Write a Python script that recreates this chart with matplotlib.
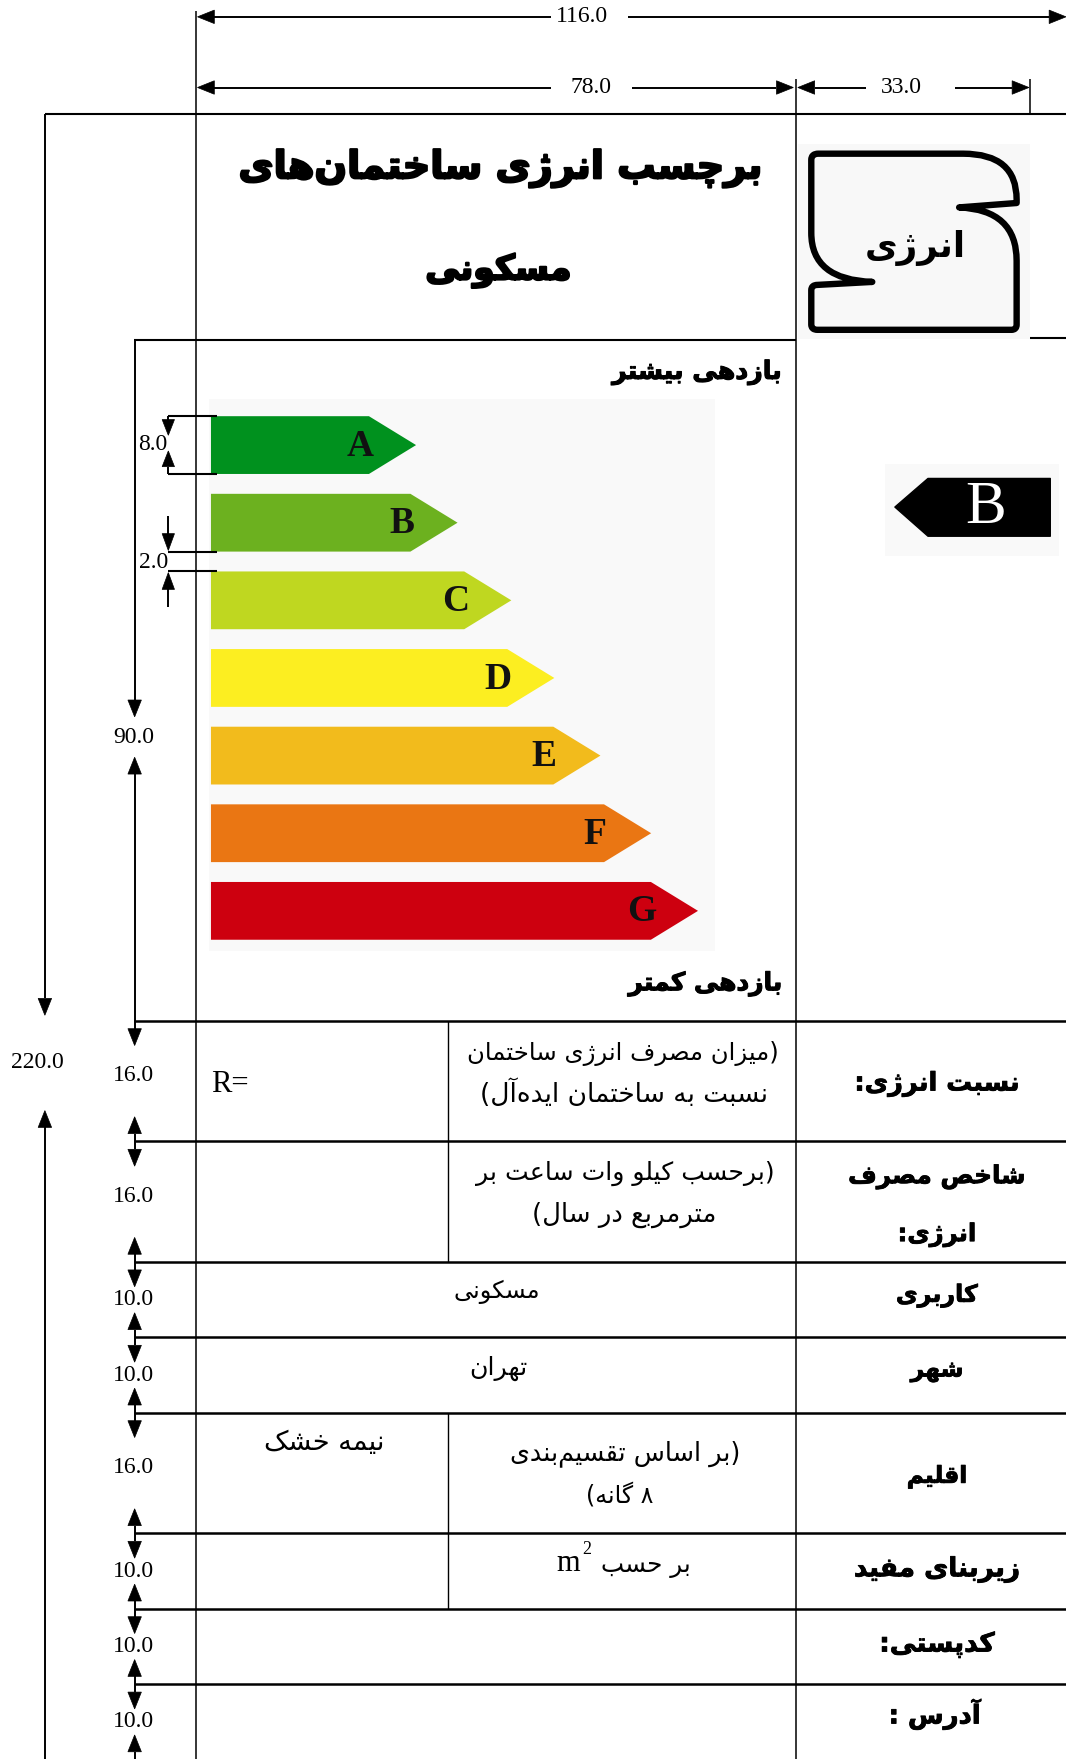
import numpy as np
import matplotlib
matplotlib.use('Agg')
import matplotlib.pyplot as plt
from matplotlib.patches import Polygon, Rectangle, PathPatch
from matplotlib.path import Path
import matplotlib.patheffects as pe
from matplotlib import font_manager as fm
from matplotlib.ft2font import FT2Font

# ---------------- data ----------------
width_dims = [116.0, 78.0, 33.0]          # mm
height_total = 220.0
chart_dim = 90.0
bar_dim = 8.0
gap_dim = 2.0
row_dims = [16.0, 16.0, 10.0, 10.0, 16.0, 10.0, 10.0, 10.0]
classes = ['A', 'B', 'C', 'D', 'E', 'F', 'G']
class_colors = ['#00911e', '#6cb11f', '#bfd720', '#fcee21', '#f2bb1c', '#ea7613', '#cd000f']
class_lengths = [26.7, 32.1, 39.1, 44.7, 50.7, 57.3, 63.4]   # mm, to arrow tip
rating = 'B'
title_lines = ['برچسب انرژی ساختمان\u200cهای', 'مسکونی']
logo_word = 'انرژی'
more_eff = 'بازدهی بیشتر'
less_eff = 'بازدهی کمتر'
row_labels = [['نسبت انرژی:'], ['شاخص مصرف', 'انرژی:'], ['کاربری'], ['شهر'],
              ['اقلیم'], ['زیربنای مفید'], ['کدپستی:'], ['آدرس :']]
ratio_note = ['(میزان مصرف انرژی ساختمان', 'نسبت به ساختمان ایده\u200cآل)']
index_note = ['(برحسب کیلو وات ساعت بر', 'مترمربع در سال)']
usage_value = 'مسکونی'
city_value = 'تهران'
climate_value = 'نیمه خشک'
climate_note = ['(بر اساس تقسیم\u200cبندی', '۸ گانه)']
area_note = 'بر حسب'
ratio_prefix = 'R='

# ---------------- Persian shaping ----------------
FORMS = {
    '\u0622': ('\uFE81', '\uFE82', None, None),
    '\u0627': ('\uFE8D', '\uFE8E', None, None),
    '\u0628': ('\uFE8F', '\uFE90', '\uFE91', '\uFE92'),
    '\u067E': ('\uFB56', '\uFB57', '\uFB58', '\uFB59'),
    '\u062A': ('\uFE95', '\uFE96', '\uFE97', '\uFE98'),
    '\u062B': ('\uFE99', '\uFE9A', '\uFE9B', '\uFE9C'),
    '\u062C': ('\uFE9D', '\uFE9E', '\uFE9F', '\uFEA0'),
    '\u0686': ('\uFB7A', '\uFB7B', '\uFB7C', '\uFB7D'),
    '\u062D': ('\uFEA1', '\uFEA2', '\uFEA3', '\uFEA4'),
    '\u062E': ('\uFEA5', '\uFEA6', '\uFEA7', '\uFEA8'),
    '\u062F': ('\uFEA9', '\uFEAA', None, None),
    '\u0630': ('\uFEAB', '\uFEAC', None, None),
    '\u0631': ('\uFEAD', '\uFEAE', None, None),
    '\u0632': ('\uFEAF', '\uFEB0', None, None),
    '\u0698': ('\uFB8A', '\uFB8B', None, None),
    '\u0633': ('\uFEB1', '\uFEB2', '\uFEB3', '\uFEB4'),
    '\u0634': ('\uFEB5', '\uFEB6', '\uFEB7', '\uFEB8'),
    '\u0635': ('\uFEB9', '\uFEBA', '\uFEBB', '\uFEBC'),
    '\u0636': ('\uFEBD', '\uFEBE', '\uFEBF', '\uFEC0'),
    '\u0637': ('\uFEC1', '\uFEC2', '\uFEC3', '\uFEC4'),
    '\u0638': ('\uFEC5', '\uFEC6', '\uFEC7', '\uFEC8'),
    '\u0639': ('\uFEC9', '\uFECA', '\uFECB', '\uFECC'),
    '\u063A': ('\uFECD', '\uFECE', '\uFECF', '\uFED0'),
    '\u0641': ('\uFED1', '\uFED2', '\uFED3', '\uFED4'),
    '\u0642': ('\uFED5', '\uFED6', '\uFED7', '\uFED8'),
    '\u06A9': ('\uFB8E', '\uFB8F', '\uFB90', '\uFB91'),
    '\u06AF': ('\uFB92', '\uFB93', '\uFB94', '\uFB95'),
    '\u0644': ('\uFEDD', '\uFEDE', '\uFEDF', '\uFEE0'),
    '\u0645': ('\uFEE1', '\uFEE2', '\uFEE3', '\uFEE4'),
    '\u0646': ('\uFEE5', '\uFEE6', '\uFEE7', '\uFEE8'),
    '\u0647': ('\uFEE9', '\uFEEA', '\uFEEB', '\uFEEC'),
    '\u0648': ('\uFEED', '\uFEEE', None, None),
    '\u06CC': ('\uFBFC', '\uFBFD', '\uFBFE', '\uFBFF'),
}
LAMALEF = {'\u0627': ('\uFEFB', '\uFEFC'), '\u0622': ('\uFEF5', '\uFEF6')}
MIRROR = {'(': ')', ')': '('}
NEUTRAL = set(' \u200c:.()')


def shape(s):
    out = []
    i, n = 0, len(s)
    while i < n:
        c = s[i]
        if c in FORMS:
            prev = s[i - 1] if i > 0 else ''
            nxt = s[i + 1] if i + 1 < n else ''
            jp = prev in FORMS and FORMS[prev][2] is not None
            if c == '\u0644' and nxt in LAMALEF:
                out.append((LAMALEF[nxt][1] if jp else LAMALEF[nxt][0], True))
                i += 2
                continue
            f = FORMS[c]
            jn = f[2] is not None and nxt in FORMS
            if jp and jn:
                g = f[3]
            elif jp:
                g = f[1]
            elif jn:
                g = f[2]
            else:
                g = f[0]
            out.append((g, True))
        else:
            out.append((c, False))
        i += 1
    return out


def visual(s, rtl=True):
    chars = shape(s)
    types = ['R' if ar else ('N' if g in NEUTRAL else 'L') for g, ar in chars]
    base = 'R' if rtl else 'L'
    res = types[:]
    n = len(types)
    i = 0
    while i < n:
        if types[i] == 'N':
            j = i
            while j < n and types[j] == 'N':
                j += 1
            left = types[i - 1] if i > 0 else base
            right = types[j] if j < n else base
            t = left if left == right else base
            for k in range(i, j):
                res[k] = t
            i = j
        else:
            i += 1
    runs = []
    for (g, _), t in zip(chars, res):
        if t == 'R' and g in MIRROR:
            g = MIRROR[g]
        if runs and runs[-1][0] == t:
            runs[-1][1].append(g)
        else:
            runs.append([t, [g]])
    if rtl:
        runs = runs[::-1]
    out = ''
    for t, gs in runs:
        out += ''.join(gs[::-1] if t == 'R' else gs)
    return out.replace('\u200c', '')


# ---------------- fonts ----------------
def has_glyphs(path, codes):
    try:
        f = FT2Font(path)
        return all(f.get_char_index(c) != 0 for c in codes)
    except Exception:
        return False

bold_path = fm.findfont(fm.FontProperties(family='DejaVu Sans', weight='bold'))
BOLD_AR = has_glyphs(bold_path, [0xFBFC, 0xFE8F, 0xFB8A, 0xFB8E])

# ---------------- figure ----------------
fig = plt.figure(figsize=(10.66, 17.59), dpi=100)
ax = fig.add_axes([0, 0, 1, 1])
ax.set_xlim(0, 950)
ax.set_ylim(1568, 0)
ax.axis('off')
S = 1066 / 950.0
renderer = fig.canvas.get_renderer()


def fit_text(x, y, s, w, ha='center', bold=False, fs0=20, color='k', rtl=True, stroke=0):
    vs = visual(s, rtl)
    kw = {}
    if bold and BOLD_AR:
        kw['fontweight'] = 'bold'
    t = ax.text(x, y, vs, ha=ha, va='center', fontsize=fs0, family='DejaVu Sans',
                color=color, **kw)
    bb = t.get_window_extent(renderer)
    t.set_fontsize(fs0 * w * S / bb.width)
    sw = stroke if (BOLD_AR or not bold) else max(stroke, 1.1)
    if sw > 0:
        t.set_path_effects([pe.withStroke(linewidth=sw, foreground=color)])
    return t


def hline(y, x0, x1, lw=1.5):
    ax.plot([x0, x1], [y, y], color='k', lw=lw, solid_capstyle='butt')


def vline(x, y0, y1, lw=1.0):
    ax.plot([x, x], [y0, y1], color='k', lw=lw, solid_capstyle='butt')


def arrow(x0, y0, x1, y1, hl=15, hw=5.5, lw=1.4):
    dx, dy = x1 - x0, y1 - y0
    L = np.hypot(dx, dy)
    ux, uy = dx / L, dy / L
    bx, by = x1 - ux * hl, y1 - uy * hl
    if L > hl:
        ax.plot([x0, bx], [y0, by], color='k', lw=lw, solid_capstyle='butt')
    ax.add_patch(Polygon([(x1, y1), (bx - uy * hw, by + ux * hw), (bx + uy * hw, by - ux * hw)],
                         closed=True, fc='k', ec='k', lw=0.5))


def dim_text(x, y, v, fs=17):
    ax.text(x, y, f'{v:.1f}', ha='center', va='center', fontsize=fs,
            family='Liberation Serif', color='k')


# ---------------- geometry ----------------
X_L, X_MID, X_LAB, X_R = 175, 399, 709, 950
Y_TOP = 102
Y_TABLE = 910
MM_Y = 6.72
bounds = Y_TABLE + np.concatenate([[0], np.cumsum(row_dims)]) * MM_Y
Y_CHART = Y_TABLE - chart_dim * 6.745

# frame lines
hline(Y_TOP, 40, X_R, 1.5)
hline(Y_CHART, 119, X_LAB, 1.5)
hline(Y_CHART - 2, 918, X_R, 1.5)
hline(bounds[0], 119, X_R, 1.8)
for b in bounds[1:-1]:
    hline(b, 120, X_R, 1.8)
vline(X_L, 10, 1568, 1.1)
vline(X_LAB, 70, 1568, 1.1)
vline(918, 70, Y_TOP, 1.1)
vline(X_MID, bounds[0], bounds[2], 1.0)
vline(X_MID, bounds[4], bounds[6], 1.0)

# ---------------- top width dimensions ----------------
y116, y78 = 15, 78
arrow(491, y116, X_L + 1, y116, hw=6)
arrow(560, y116, X_R, y116, hw=6)
dim_text(519, y116, width_dims[0])
arrow(491, y78, X_L + 1, y78, hw=6)
arrow(563, y78, X_LAB - 2, y78, hw=6)
dim_text(527, y78, width_dims[1])
arrow(772, y78, X_LAB + 2, y78, hw=6)
arrow(851, y78, 917, y78, hw=6)
dim_text(803, y78, width_dims[2])

# total height
arrow(40, Y_TOP, 40, 905, hw=6)
arrow(40, 1568, 40, 990, hw=6)
dim_text(33, 947, height_total)

# chart height
arrow(120, Y_CHART, 120, 639, hw=6)
arrow(120, Y_TABLE, 120, 675, hw=6)
dim_text(119, 657, chart_dim)

# ---------------- title ----------------
fit_text(446, 150, title_lines[0], 466, bold=True, stroke=1.6)
fit_text(444, 241, title_lines[1], 130, bold=True, stroke=1.6)

# ---------------- logo ----------------
ax.add_patch(Rectangle((711, 128), 207, 174, fc='#f8f8f8', ec='none'))
LX0, LY0, LW, LH = 723, 137, 183, 157
pts = [((0.034, 0.0), Path.MOVETO), ((0.74, 0.0), Path.LINETO),
       ((1.0, 0.0), Path.CURVE3), ((1.0, 0.26), Path.CURVE3),
       ((1.0, 0.28), Path.LINETO), ((0.72, 0.305), Path.LINETO),
       ((1.0, 0.318), Path.CURVE3), ((1.0, 0.608), Path.CURVE3),
       ((1.0, 0.97), Path.LINETO), ((1.0, 1.0), Path.CURVE3), ((0.975, 1.0), Path.CURVE3),
       ((0.03, 1.0), Path.LINETO), ((0.0, 1.0), Path.CURVE3), ((0.0, 0.97), Path.CURVE3),
       ((0.0, 0.775), Path.LINETO), ((0.0, 0.745), Path.CURVE3), ((0.03, 0.745), Path.CURVE3),
       ((0.297, 0.728), Path.LINETO),
       ((0.0, 0.716), Path.CURVE3), ((0.0, 0.45), Path.CURVE3),
       ((0.0, 0.035), Path.LINETO), ((0.0, 0.0), Path.CURVE3), ((0.034, 0.0), Path.CURVE3),
       ((0.034, 0.0), Path.CLOSEPOLY)]
verts = [(LX0 + u * LW, LY0 + v * LH) for (u, v), _ in pts]
codes = [c for _, c in pts]
ax.add_patch(PathPatch(Path(verts, codes), fc='none', ec='k', lw=4.6, joinstyle='round'))
fit_text(816, 221, logo_word, 90, bold=True)

# ---------------- efficiency chart ----------------
ax.add_patch(Rectangle((186, 356), 451, 492, fc='#f9f9f9', ec='none'))
fit_text(697, 332, more_eff, 151, ha='right', bold=True, stroke=0.8)
fit_text(697, 877, less_eff, 137, ha='right', bold=True, stroke=0.8)
BAR_X0, PX_MM, TIP = 188, 534 / 78.0, 42
BAR_TOP0, PITCH, BAR_H = 371, 69.2, 51.5
for i, (c, col, L) in enumerate(zip(classes, class_colors, class_lengths)):
    top = BAR_TOP0 + i * PITCH
    tip = BAR_X0 + L * PX_MM
    poly = [(BAR_X0, top), (tip - TIP, top), (tip, top + BAR_H / 2),
            (tip - TIP, top + BAR_H), (BAR_X0, top + BAR_H)]
    ax.add_patch(Polygon(poly, closed=True, fc=col, ec='none'))
    ax.text(tip - 50, top + BAR_H / 2 + 1, c, ha='center', va='center', fontsize=27,
            family='Liberation Serif', fontweight='bold', color='#111111')

# bar height dimension
yA0, yA1 = BAR_TOP0, BAR_TOP0 + BAR_H
hline(yA0, 150, 193, 1.5)
hline(yA1, 150, 193, 1.5)
arrow(150, yA0, 150, 388, hl=14, hw=5.5)
arrow(150, yA1, 150, 402, hl=14, hw=5.5)
dim_text(136, 396, bar_dim)
# bar gap dimension
yB1, yC0 = BAR_TOP0 + PITCH + BAR_H, BAR_TOP0 + 2 * PITCH
hline(yB1, 150, 193, 1.5)
hline(yC0, 150, 193, 1.5)
arrow(150, 460, 150, yB1 - 1)
arrow(150, 541, 150, yC0 + 1)
dim_text(137, 501, gap_dim)

# rating marker
ax.add_patch(Rectangle((789, 414), 155, 82, fc='#f9f9f9', ec='none'))
ax.add_patch(Polygon([(797.5, 452), (827, 426.5), (936, 426.5), (936, 478), (827, 478)],
                     closed=True, fc='k', ec='k', lw=1, joinstyle='round'))
ax.text(878, 453, rating, ha='center', va='center', fontsize=44,
        family='Liberation Serif', color='white')

# ---------------- table row dimensions ----------------
for k, d in enumerate(row_dims):
    t, b = bounds[k], bounds[k + 1]
    arrow(120, t, 120, t + 22, hl=15, hw=6)
    arrow(120, b, 120, b - 22, hl=15, hw=6)
    mid = (t + b) / 2
    dim_text(119, mid - (5 if d > 12 else 0), d)

# ---------------- table contents ----------------
lab_x = 835
fit_text(lab_x, 966, row_labels[0][0], 147, bold=True, stroke=0.6)
fit_text(lab_x, 1049, row_labels[1][0], 158, bold=True, stroke=0.6)
fit_text(lab_x, 1101, row_labels[1][1], 70, bold=True, stroke=0.6)
fit_text(lab_x, 1155, row_labels[2][0], 73, bold=True, stroke=0.6)
fit_text(lab_x, 1222, row_labels[3][0], 47, bold=True, stroke=0.6)
fit_text(lab_x, 1316, row_labels[4][0], 54, bold=True, stroke=0.6)
fit_text(lab_x, 1399, row_labels[5][0], 148, bold=True, stroke=0.6)
fit_text(lab_x, 1466, row_labels[6][0], 103, bold=True, stroke=0.6)
fit_text(lab_x - 2, 1528, row_labels[7][0], 82, bold=True, stroke=0.6)

ax.text(188, 967, ratio_prefix, ha='left', va='center', fontsize=22,
        family='Liberation Serif', color='k')
fit_text(555, 939, ratio_note[0], 278)
fit_text(556, 975, ratio_note[1], 256)
fit_text(557, 1046, index_note[0], 266)
fit_text(556, 1083, index_note[1], 164)
fit_text(443, 1152, usage_value, 77)
fit_text(444, 1220, city_value, 52)
fit_text(289, 1286, climate_value, 107)
fit_text(557, 1296, climate_note[0], 205)
fit_text(552, 1333, climate_note[1], 60)
fit_text(576, 1396, area_note, 80)
ax.text(506, 1394, 'm', ha='center', va='center', fontsize=22,
        family='Liberation Serif', color='k')
ax.text(523, 1381, '2', ha='center', va='center', fontsize=13,
        family='Liberation Serif', color='k')

fig.savefig('out.png', dpi=100, facecolor='white')
